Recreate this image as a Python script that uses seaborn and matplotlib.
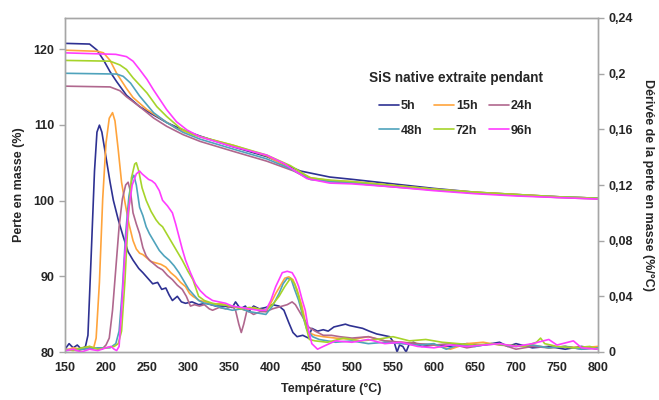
import numpy as np
import pandas as pd
import seaborn as sns
import matplotlib.pyplot as plt

# series names and colours
durations = ['5h', '15h', '24h', '48h', '72h', '96h']
colors = ['#2E3192', '#FFA43C', '#B0678E', '#4FA3BC', '#A6D42A', '#FF3CFF']

# TGA curves (left axis, %)
tga_t_5h = [150, 180, 189, 197, 205, 213, 225, 241, 258, 274, 294, 315, 355, 396, 424, 437, 473, 500, 550, 600, 650, 700, 750, 800]
tga_5h = [120.75, 120.66, 119.87, 118.55, 117.0, 115.7, 113.9, 112.4, 111.3, 110.3, 109.3, 108.5, 107.1, 105.8, 104.5, 103.9, 103.1, 102.8, 102.2, 101.6, 101.1, 100.8, 100.5, 100.3]
tga_t_15h = [150, 190, 197, 205, 213, 225, 233, 250, 266, 286, 315, 355, 396, 425, 450, 475, 500, 550, 600, 650, 700, 750, 800]
tga_15h = [119.85, 119.7, 119.5, 118.5, 116.8, 114.8, 113.6, 112.0, 110.9, 109.5, 108.4, 107.3, 105.9, 104.2, 103.0, 102.6, 102.5, 102.0, 101.5, 101.1, 100.8, 100.5, 100.3]
tga_t_24h = [150, 205, 217, 225, 241, 258, 274, 294, 315, 355, 396, 429, 449, 473, 500, 550, 600, 650, 700, 750, 800]
tga_24h = [115.1, 115.0, 114.5, 113.7, 112.4, 110.9, 109.8, 108.7, 107.8, 106.5, 105.2, 103.9, 102.8, 102.5, 102.3, 101.8, 101.4, 101.0, 100.7, 100.4, 100.2]
tga_t_48h = [150, 213, 221, 230, 241, 258, 274, 294, 315, 355, 396, 425, 449, 473, 500, 550, 600, 650, 700, 750, 800]
tga_48h = [116.8, 116.7, 116.4, 115.5, 113.8, 111.6, 110.3, 109.0, 108.1, 106.8, 105.5, 104.2, 102.8, 102.5, 102.4, 101.9, 101.4, 101.0, 100.7, 100.5, 100.3]
tga_t_72h = [150, 205, 217, 225, 233, 250, 262, 274, 290, 306, 355, 396, 425, 449, 473, 500, 550, 600, 650, 700, 750, 800]
tga_72h = [118.5, 118.4, 117.9, 117.3, 116.2, 114.2, 112.4, 111.1, 109.6, 108.7, 107.3, 106.0, 104.6, 103.0, 102.7, 102.5, 102.0, 101.5, 101.1, 100.8, 100.5, 100.3]
tga_t_96h = [150, 212, 225, 233, 241, 250, 258, 266, 274, 286, 299, 315, 355, 396, 417, 429, 445, 473, 500, 550, 600, 650, 700, 750, 800]
tga_96h = [119.5, 119.3, 119.0, 118.4, 117.3, 116.0, 114.6, 113.3, 112.0, 110.4, 109.3, 108.4, 107.1, 106.0, 104.9, 104.0, 102.9, 102.3, 102.2, 101.8, 101.3, 100.9, 100.6, 100.4, 100.2]

# DTG curves (right axis, %/°C)
dtg_t_5h = [150, 155, 160, 165, 170, 175, 178, 182, 186, 189, 192, 195, 200, 205, 209, 215, 221, 227, 233, 240, 245, 251, 257, 263, 268, 273, 277, 281, 287, 292, 297, 305, 313, 322, 334, 345, 354, 358, 364, 370, 374, 380, 387, 395, 403, 411, 417, 423, 428, 433, 440, 447, 451, 458, 465, 471, 478, 485, 492, 497, 505, 513, 521, 530, 538, 546, 552, 555, 558, 562, 566, 570, 575, 585, 600, 620, 640, 660, 680, 690, 700, 720, 740, 760, 780, 800]
dtg_5h = [0.002, 0.006, 0.003, 0.005, 0.002, 0.004, 0.012, 0.07, 0.13, 0.158, 0.163, 0.158, 0.14, 0.122, 0.109, 0.095, 0.083, 0.072, 0.066, 0.060, 0.057, 0.053, 0.049, 0.050, 0.045, 0.046, 0.041, 0.037, 0.040, 0.036, 0.035, 0.036, 0.034, 0.035, 0.033, 0.033, 0.032, 0.036, 0.031, 0.033, 0.029, 0.033, 0.031, 0.032, 0.034, 0.033, 0.030, 0.021, 0.014, 0.011, 0.012, 0.010, 0.017, 0.015, 0.016, 0.015, 0.018, 0.019, 0.020, 0.019, 0.018, 0.017, 0.015, 0.013, 0.012, 0.011, 0.006, 0.000, 0.005, 0.004, 0.000, 0.006, 0.007, 0.004, 0.005, 0.004, 0.006, 0.005, 0.007, 0.004, 0.006, 0.003, 0.004, 0.002, 0.004, 0.002]
dtg_t_15h = [150, 160, 170, 180, 185, 188, 192, 196, 200, 204, 208, 211, 215, 219, 223, 228, 233, 237, 241, 245, 249, 255, 261, 267, 273, 279, 285, 291, 297, 302, 306, 314, 322, 330, 340, 350, 360, 370, 380, 390, 395, 401, 407, 413, 418, 423, 428, 433, 439, 443, 447, 455, 465, 480, 500, 520, 540, 560, 580, 600, 620, 640, 660, 680, 700, 720, 740, 760, 780, 800]
dtg_15h = [0.001, 0.003, 0.002, 0.004, 0.003, 0.010, 0.05, 0.11, 0.15, 0.168, 0.172, 0.166, 0.145, 0.122, 0.108, 0.092, 0.080, 0.074, 0.071, 0.070, 0.068, 0.065, 0.064, 0.063, 0.061, 0.057, 0.054, 0.050, 0.047, 0.042, 0.040, 0.037, 0.036, 0.034, 0.035, 0.033, 0.032, 0.030, 0.032, 0.030, 0.029, 0.035, 0.042, 0.048, 0.053, 0.054, 0.052, 0.045, 0.033, 0.022, 0.014, 0.012, 0.011, 0.010, 0.009, 0.011, 0.008, 0.007, 0.006, 0.005, 0.002, 0.006, 0.007, 0.005, 0.004, 0.005, 0.003, 0.004, 0.003, 0.004]
dtg_t_24h = [150, 165, 180, 195, 200, 204, 208, 212, 216, 220, 224, 227, 230, 233, 237, 241, 245, 249, 253, 257, 263, 269, 275, 281, 287, 293, 298, 303, 308, 314, 320, 326, 330, 338, 346, 354, 358, 362, 365, 368, 372, 380, 388, 395, 403, 409, 415, 421, 427, 431, 435, 441, 447, 455, 465, 475, 485, 500, 520, 540, 560, 580, 600, 620, 640, 660, 680, 700, 720, 740, 760, 780, 800]
dtg_24h = [0.002, 0.001, 0.003, 0.002, 0.005, 0.010, 0.030, 0.060, 0.090, 0.110, 0.120, 0.122, 0.115, 0.100, 0.092, 0.085, 0.075, 0.069, 0.066, 0.064, 0.061, 0.059, 0.055, 0.052, 0.048, 0.045, 0.040, 0.033, 0.034, 0.033, 0.034, 0.031, 0.030, 0.032, 0.031, 0.033, 0.030, 0.020, 0.014, 0.020, 0.030, 0.027, 0.029, 0.029, 0.031, 0.032, 0.033, 0.034, 0.036, 0.034, 0.030, 0.024, 0.018, 0.015, 0.012, 0.012, 0.011, 0.010, 0.011, 0.008, 0.007, 0.006, 0.005, 0.006, 0.003, 0.005, 0.006, 0.002, 0.004, 0.003, 0.004, 0.002, 0.003]
dtg_t_48h = [150, 170, 190, 205, 212, 216, 220, 224, 228, 232, 234, 237, 241, 245, 249, 253, 259, 265, 271, 277, 283, 289, 295, 301, 307, 313, 320, 330, 340, 354, 365, 375, 385, 395, 403, 411, 416, 421, 426, 430, 435, 440, 445, 452, 460, 470, 480, 500, 520, 540, 560, 580, 600, 615, 630, 650, 670, 700, 720, 740, 760, 780, 800]
dtg_48h = [0.001, 0.002, 0.003, 0.003, 0.006, 0.015, 0.045, 0.085, 0.112, 0.125, 0.127, 0.120, 0.104, 0.098, 0.090, 0.085, 0.079, 0.073, 0.069, 0.066, 0.062, 0.057, 0.051, 0.045, 0.041, 0.037, 0.035, 0.034, 0.032, 0.030, 0.031, 0.029, 0.028, 0.027, 0.033, 0.042, 0.049, 0.053, 0.052, 0.045, 0.037, 0.026, 0.016, 0.011, 0.009, 0.008, 0.007, 0.008, 0.006, 0.007, 0.006, 0.005, 0.006, 0.002, 0.005, 0.004, 0.006, 0.004, 0.005, 0.003, 0.004, 0.002, 0.003]
dtg_t_72h = [150, 160, 170, 180, 190, 200, 210, 215, 219, 223, 227, 231, 235, 237, 240, 244, 249, 255, 261, 265, 269, 275, 281, 287, 293, 300, 306, 313, 320, 330, 340, 354, 365, 375, 385, 395, 403, 411, 418, 425, 430, 435, 439, 444, 448, 455, 470, 490, 510, 530, 550, 570, 590, 610, 630, 650, 670, 690, 710, 725, 730, 735, 750, 770, 790, 800]
dtg_72h = [0.002, 0.001, 0.003, 0.004, 0.002, 0.003, 0.004, 0.006, 0.015, 0.050, 0.095, 0.125, 0.135, 0.136, 0.130, 0.118, 0.109, 0.101, 0.095, 0.092, 0.090, 0.084, 0.078, 0.072, 0.066, 0.058, 0.052, 0.040, 0.037, 0.035, 0.034, 0.033, 0.031, 0.032, 0.031, 0.030, 0.034, 0.040, 0.047, 0.053, 0.049, 0.040, 0.030, 0.018, 0.009, 0.008, 0.007, 0.010, 0.008, 0.009, 0.011, 0.008, 0.009, 0.007, 0.006, 0.005, 0.006, 0.005, 0.004, 0.007, 0.010, 0.006, 0.004, 0.003, 0.004, 0.002]
dtg_t_96h = [150, 160, 170, 180, 190, 200, 206, 210, 213, 216, 219, 223, 227, 232, 237, 241, 244, 248, 252, 256, 260, 265, 269, 275, 281, 285, 289, 293, 297, 303, 309, 315, 322, 330, 338, 346, 354, 365, 375, 385, 395, 401, 407, 411, 415, 421, 427, 431, 435, 439, 443, 447, 451, 458, 465, 480, 500, 520, 540, 560, 580, 600, 620, 640, 660, 680, 700, 720, 740, 750, 770, 780, 800]
dtg_96h = [0.001, 0.002, 0.000, 0.002, 0.001, 0.003, 0.004, 0.002, 0.001, 0.004, 0.030, 0.070, 0.100, 0.120, 0.128, 0.130, 0.128, 0.126, 0.124, 0.123, 0.121, 0.116, 0.109, 0.105, 0.100, 0.092, 0.083, 0.074, 0.066, 0.057, 0.049, 0.044, 0.040, 0.037, 0.036, 0.035, 0.033, 0.032, 0.031, 0.030, 0.030, 0.037, 0.047, 0.052, 0.057, 0.058, 0.057, 0.053, 0.047, 0.038, 0.030, 0.016, 0.006, 0.002, 0.004, 0.008, 0.007, 0.009, 0.006, 0.007, 0.004, 0.003, 0.005, 0.004, 0.005, 0.006, 0.004, 0.006, 0.009, 0.005, 0.008, 0.003, 0.002]

x_ticks = [150, 200, 250, 300, 350, 400, 450, 500, 550, 600, 650, 700, 750, 800]
left_ticks = [80, 90, 100, 110, 120]
right_ticks = [0, 0.04, 0.08, 0.12, 0.16, 0.2, 0.24]
right_labels = ['0', '0,04', '0,08', '0,12', '0,16', '0,2', '0,24']


def long_df(ts, vals, col):
    frames = []
    for name, t, v in zip(durations, ts, vals):
        frames.append(pd.DataFrame({'T': t, col: v, 'Durée': name}))
    return pd.concat(frames, ignore_index=True)


tga_df = long_df([tga_t_5h, tga_t_15h, tga_t_24h, tga_t_48h, tga_t_72h, tga_t_96h],
                 [tga_5h, tga_15h, tga_24h, tga_48h, tga_72h, tga_96h], 'Perte')
dtg_df = long_df([dtg_t_5h, dtg_t_15h, dtg_t_24h, dtg_t_48h, dtg_t_72h, dtg_t_96h],
                 [dtg_5h, dtg_15h, dtg_24h, dtg_48h, dtg_72h, dtg_96h], 'Derivee')

sns.set_style("white")
plt.rcParams['font.family'] = ['Liberation Sans', 'DejaVu Sans']
plt.rcParams['font.weight'] = 'bold'
palette = dict(zip(durations, colors))
fs = 9

fig = plt.figure(figsize=(6.59, 4.0), dpi=100)
ax = fig.add_axes([0.0986, 0.12, 0.8088, 0.835])
ax2 = ax.twinx()

sns.lineplot(data=tga_df, x='T', y='Perte', hue='Durée', palette=palette,
             hue_order=durations, linewidth=1.2, ax=ax, legend=True)
sns.lineplot(data=dtg_df, x='T', y='Derivee', hue='Durée', palette=palette,
             hue_order=durations, linewidth=1.2, ax=ax2, legend=False)

handles, labels = ax.get_legend_handles_labels()
ax.get_legend().remove()
# legend fills by column, so reorder to read row by row
order = [0, 3, 1, 4, 2, 5]
handles = [handles[i] for i in order]
labels = [labels[i] for i in order]

ax.set_xlim(150, 800)
ax.set_ylim(80, 124.1)
ax2.set_ylim(0, 0.24)
ax.set_xticks(x_ticks)
ax.set_yticks(left_ticks)
ax2.set_yticks(right_ticks)
ax2.set_yticklabels(right_labels)

grey = '#A6A6A6'
for a in (ax, ax2):
    for sp in a.spines.values():
        sp.set_color(grey)
        sp.set_linewidth(1.0)
    a.tick_params(axis='both', which='major', labelsize=fs, length=4,
                  width=1.0, color=grey, direction='out')
ax.tick_params(axis='x', pad=3)

ax.set_xlabel("Température (°C)", fontsize=fs, fontweight='bold', labelpad=7)
ax.set_ylabel("Perte en masse (%)", fontsize=fs, fontweight='bold', labelpad=6)
ax2.set_ylabel("Dérivée de la perte en masse (%/°C)", fontsize=fs,
               fontweight='bold', rotation=-90, labelpad=15)

leg = ax2.legend(handles, labels, title="SiS native extraite pendant", ncol=3,
                 loc='upper center', bbox_to_anchor=(0.733, 0.875), frameon=False,
                 fontsize=fs, title_fontproperties={'weight': 'bold', 'size': 9.8},
                 handlelength=1.6, handletextpad=0.15, columnspacing=0.9,
                 labelspacing=1.0)
leg._legend_box.sep = 11

plt.savefig('out.png', dpi=100)
